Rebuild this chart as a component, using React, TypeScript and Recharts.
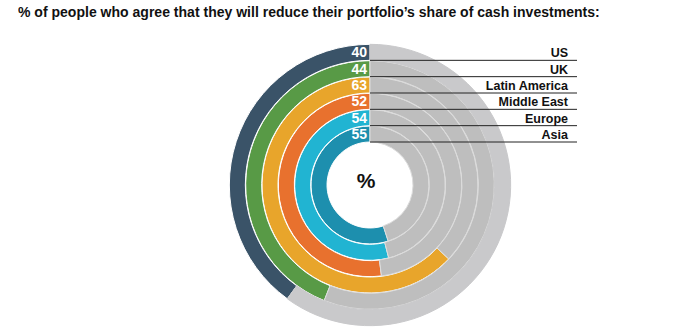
import { Cell, LabelList, PolarAngleAxis, RadialBar, RadialBarChart } from 'recharts';

const regions = ['US', 'UK', 'Latin America', 'Middle East', 'Europe', 'Asia'];
const agreeShare = [40, 44, 63, 52, 54, 55];
const ringColors = ['#3a5368', '#589a46', '#e8a52b', '#e8712e', '#21b4d2', '#1d8fae'];

// innermost ring first, so US ends up on the outside
const data = regions
  .map((name, i) => ({ name, value: agreeShare[i], rest: 100 - agreeShare[i], fill: ringColors[i] }))
  .reverse();

const CX = 370;
const CY = 185;
const LINE_END = 577;
const TEXT_END = 568;

const renderValue = (props: any) => {
  const { viewBox, value } = props;
  if (!viewBox) return null;
  const mid = (viewBox.innerRadius + viewBox.outerRadius) / 2;
  return (
    <text
      x={viewBox.cx - 3}
      y={viewBox.cy - mid}
      fill="#fff"
      textAnchor="end"
      dominantBaseline="central"
      fontFamily="Arial, 'Liberation Sans', sans-serif"
      fontSize={14}
      fontWeight={700}
    >
      {value}
    </text>
  );
};

const renderRegion = (props: any) => {
  const { viewBox, value } = props;
  if (!viewBox) return null;
  const y = viewBox.cy - viewBox.innerRadius;
  return (
    <g>
      <line x1={viewBox.cx} y1={y} x2={LINE_END} y2={y} stroke="#222" strokeWidth={1} />
      <text
        x={TEXT_END}
        y={y - 3}
        fill="#111"
        textAnchor="end"
        fontFamily="Arial, 'Liberation Sans', sans-serif"
        fontSize={12.5}
        fontWeight={700}
      >
        {value}
      </text>
    </g>
  );
};

export default function App() {
  return (
    <div style={{ position: 'absolute', left: 0, top: 0, width: 682, height: 329, background: '#fff' }}>
      <div
        style={{
          position: 'absolute',
          left: 18,
          top: 3,
          fontFamily: "'Liberation Sans', Arial, sans-serif",
          fontSize: 15,
          fontWeight: 700,
          color: '#111',
          whiteSpace: 'nowrap',
          transform: 'scaleX(0.935)',
          transformOrigin: 'left center',
        }}
      >
        % of people who agree that they will reduce their portfolio’s share of cash investments:
      </div>
      <RadialBarChart
        width={682}
        height={329}
        data={data}
        cx={CX}
        cy={CY}
        innerRadius={43}
        outerRadius={141}
        startAngle={90}
        endAngle={450}
        barCategoryGap={0}
        margin={{ top: 0, right: 0, bottom: 0, left: 0 }}
      >
        <PolarAngleAxis type="number" domain={[0, 100]} tick={false} axisLine={false} />
        <RadialBar dataKey="value" stackId="ring" isAnimationActive={false} stroke="#fff" strokeWidth={1}>
          {data.map((d) => (
            <Cell key={d.name} fill={d.fill} />
          ))}
          <LabelList dataKey="value" content={renderValue} />
          <LabelList dataKey="name" content={renderRegion} />
        </RadialBar>
        <RadialBar dataKey="rest" stackId="ring" isAnimationActive={false} stroke="#dcdcdc" strokeWidth={1}>
          {data.map((d, i) => (
            <Cell
              key={d.name}
              fill={i === data.length - 1 ? '#c9c9cb' : '#bebebe'}
              stroke={i === data.length - 1 ? '#c9c9cb' : '#dcdcdc'}
            />
          ))}
        </RadialBar>
      </RadialBarChart>
      <div
        style={{
          position: 'absolute',
          left: 366,
          top: 181,
          transform: 'translate(-50%, -50%)',
          fontFamily: "Arial, 'Liberation Sans', sans-serif",
          fontSize: 21,
          fontWeight: 700,
          color: '#111',
        }}
      >
        %
      </div>
    </div>
  );
}
